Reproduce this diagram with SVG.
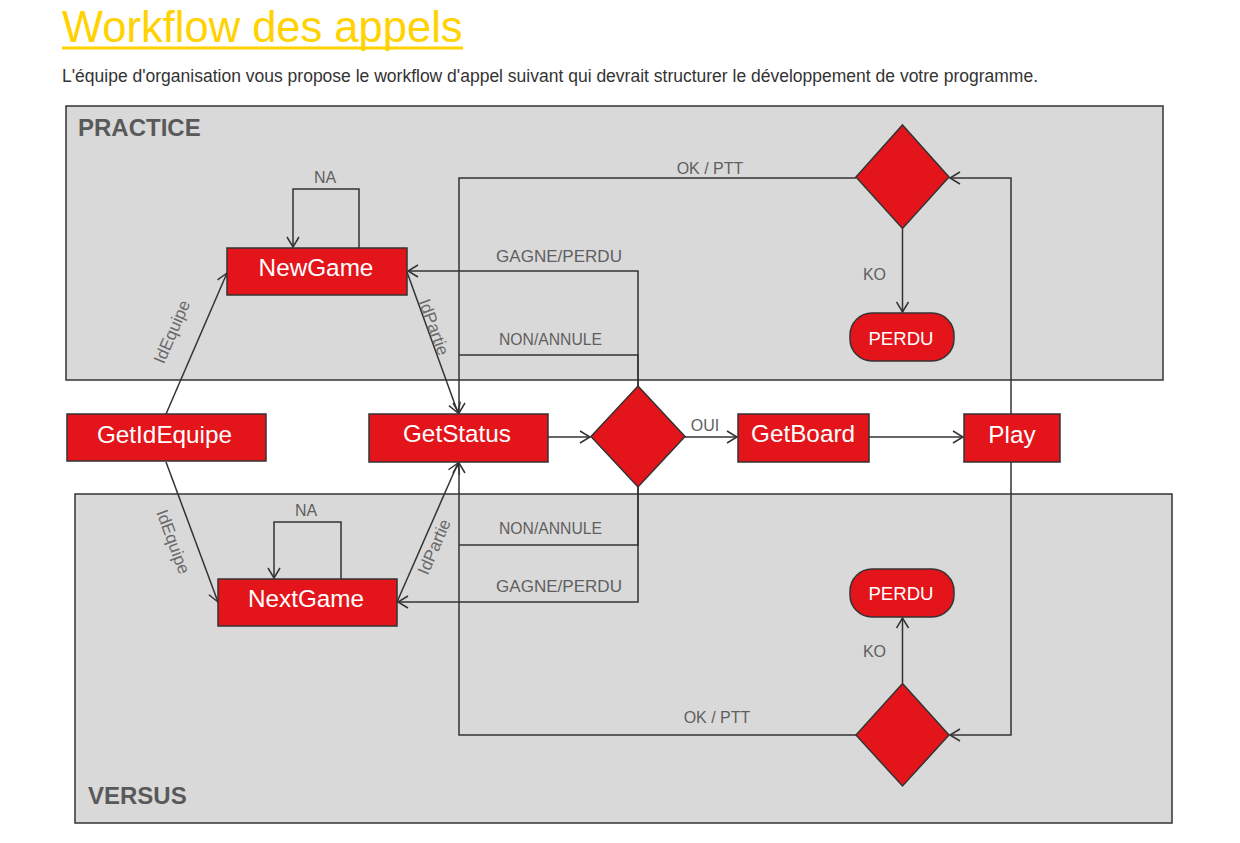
<svg xmlns="http://www.w3.org/2000/svg" width="1240" height="843" viewBox="0 0 1240 843">
<style>
text{font-family:"Liberation Sans",Arial,sans-serif}
.title{font-size:43.5px;fill:#ffd200}
.sub{font-size:17.5px;fill:#333}
.lane{fill:#d9d9d9;stroke:#333;stroke-width:1.5}
.lanelbl{font-size:24px;font-weight:bold;fill:#595959}
.node{fill:#e4141b;stroke:#333;stroke-width:1.5}
.ntxt{font-size:24.3px;fill:#fff;text-anchor:middle}
.ptxt{font-size:18.6px;fill:#fff;text-anchor:middle}
.lbl{font-size:16px;fill:#5f5f5f;text-anchor:middle}
.rlbl{font-size:17px;fill:#6a6a6a;text-anchor:middle}
.c{fill:none;stroke:#333;stroke-width:1.5}
.a{marker-end:url(#arr)}
</style>
<defs>
<marker id="arr" markerUnits="userSpaceOnUse" markerWidth="14" markerHeight="14" viewBox="0 0 12 14" refX="11" refY="7" orient="auto">
<path d="M1,1 L11,7 L1,13" fill="none" stroke="#333" stroke-width="1.5"/>
</marker>
</defs>
<rect width="1240" height="843" fill="#fff"/>
<g id="header">
<text class="title" x="62" y="42">Workflow des appels</text>
<rect x="62" y="46.5" width="401" height="3" fill="#ffd200"/>
<text class="sub" x="62" y="82">L'équipe d'organisation vous propose le workflow d'appel suivant qui devrait structurer le développement de votre programme.</text>
</g>
<g id="lane-practice">
<rect class="lane" x="66" y="106" width="1097" height="274"/>
<text class="lanelbl" x="78" y="136">PRACTICE</text>
</g>
<g id="lane-versus">
<rect class="lane" x="75" y="494" width="1097" height="329"/>
<text class="lanelbl" x="88" y="804">VERSUS</text>
</g>
<g id="connectors">
<path class="c a" d="M166,414 L227,273"/>
<path class="c a" d="M407,272 L458,413"/>
<path class="c a" d="M166,462 L218,602"/>
<path class="c a" d="M397,602 L458,463"/>
<path class="c a" d="M359,248 V189 H293 V247"/>
<path class="c a" d="M341,579 V522 H274 V578"/>
<path class="c a" d="M548,437 H590"/>
<path class="c a" d="M685,437 H737"/>
<path class="c a" d="M869,437 H963"/>
<path class="c a" d="M1011,414 V178 H950"/>
<path class="c a" d="M1011,462 V735 H950"/>
<path class="c a" d="M856,178 H459 V413"/>
<path class="c a" d="M902.5,229 V312"/>
<path class="c a" d="M856,735 H459 V463"/>
<path class="c a" d="M902.5,683 V618"/>
<path class="c a" d="M638,386 V271 H408"/>
<path class="c" d="M638,386 V355 H459"/>
<path class="c" d="M638,487 V545 H459"/>
<path class="c a" d="M638,487 V602 H398"/>
<text class="lbl" x="325" y="183">NA</text>
<text class="lbl" x="306" y="516">NA</text>
<text class="lbl" x="710" y="174">OK / PTT</text>
<text class="lbl" x="717" y="723">OK / PTT</text>
<text class="lbl" x="559" y="262" textLength="126" lengthAdjust="spacingAndGlyphs">GAGNE/PERDU</text>
<text class="lbl" x="550.5" y="345" textLength="103" lengthAdjust="spacingAndGlyphs">NON/ANNULE</text>
<text class="lbl" x="550.5" y="534" textLength="103" lengthAdjust="spacingAndGlyphs">NON/ANNULE</text>
<text class="lbl" x="559" y="592" textLength="126" lengthAdjust="spacingAndGlyphs">GAGNE/PERDU</text>
<text class="lbl" x="705" y="431">OUI</text>
<text class="lbl" x="874.5" y="280">KO</text>
<text class="lbl" x="874.5" y="657">KO</text>
<text class="rlbl" x="171.7" y="331.7" dy="0.35em" transform="rotate(-66.6 171.7 331.7)">IdEquipe</text>
<text class="rlbl" x="434" y="327" dy="0.35em" transform="rotate(70 434 327)">IdPartie</text>
<text class="rlbl" x="173.3" y="541.7" dy="0.35em" transform="rotate(69.6 173.3 541.7)">IdEquipe</text>
<text class="rlbl" x="434" y="546.7" dy="0.35em" transform="rotate(-66.5 434 546.7)">IdPartie</text>
</g>
<g id="NewGame"><rect class="node" x="227" y="248" width="180" height="47"/><text class="ntxt" x="316" y="276">NewGame</text></g>
<g id="GetIdEquipe"><rect class="node" x="67" y="414" width="199" height="47"/><text class="ntxt" x="164.5" y="443">GetIdEquipe</text></g>
<g id="GetStatus"><rect class="node" x="369" y="414" width="179" height="48"/><text class="ntxt" x="457" y="442">GetStatus</text></g>
<g id="Decision"><polygon class="node" points="638,386 685,436.5 638,487 591,436.5"/></g>
<g id="GetBoard"><rect class="node" x="738" y="414" width="131" height="48"/><text class="ntxt" x="803" y="442">GetBoard</text></g>
<g id="Play"><rect class="node" x="964" y="414" width="96" height="48"/><text class="ntxt" x="1012" y="443">Play</text></g>
<g id="DecisionPractice"><polygon class="node" points="902.5,125 949,177 902.5,228.5 856,177"/></g>
<g id="PerduPractice"><rect class="node" x="850" y="313" width="104" height="48" rx="22" ry="22"/><text class="ptxt" x="901" y="345">PERDU</text></g>
<g id="NextGame"><rect class="node" x="218" y="579" width="179" height="47"/><text class="ntxt" x="306" y="607">NextGame</text></g>
<g id="PerduVersus"><rect class="node" x="850" y="569" width="104" height="48" rx="22" ry="22"/><text class="ptxt" x="901" y="599.5">PERDU</text></g>
<g id="DecisionVersus"><polygon class="node" points="902.5,683.5 949,735 902.5,786 856,735"/></g>
</svg>
